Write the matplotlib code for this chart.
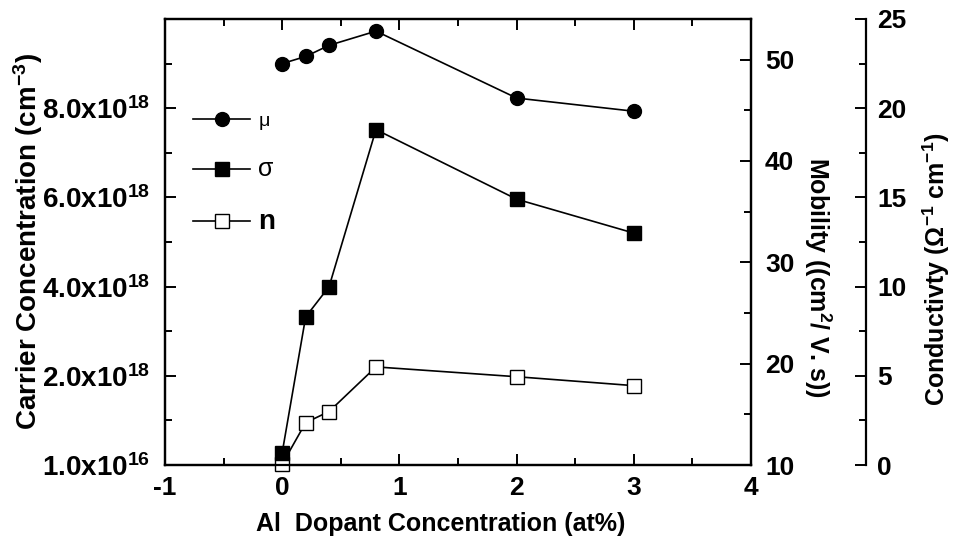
import matplotlib.pyplot as plt
from matplotlib.lines import Line2D
from matplotlib.ticker import MultipleLocator

plt.rcParams['font.family'] = ['Liberation Sans', 'DejaVu Sans']
plt.rcParams['mathtext.fontset'] = 'custom'
plt.rcParams['mathtext.rm'] = 'Liberation Sans:bold'
plt.rcParams['mathtext.bf'] = 'Liberation Sans:bold'
plt.rcParams['mathtext.default'] = 'bf'
plt.rcParams['axes.unicode_minus'] = False

# Data
al_pct = [0, 0.2, 0.4, 0.8, 2, 3]
mobility = [49.6, 50.3, 51.4, 52.8, 46.2, 44.9]          # cm^2/V.s
conductivity = [0.7, 8.3, 10.0, 18.8, 14.9, 13.0]       # 1/(ohm cm)
carrier = [0.02, 0.95, 1.2, 2.2, 1.98, 1.78]            # x1e18 cm^-3

carrier_ticks = [0, 2, 4, 6, 8]
carrier_labels = ['1.0x10$^{16}$', '2.0x10$^{18}$', '4.0x10$^{18}$',
                  '6.0x10$^{18}$', '8.0x10$^{18}$']

TICK_FS = 19

fig = plt.figure(figsize=(9.56, 5.42), dpi=100)
ax = fig.add_axes([0.1726, 0.142, 0.613, 0.823])
ax_mu = ax.twinx()
ax_sig = ax.twinx()
ax_sig.spines['right'].set_position(('axes', 1.196))

for a in (ax, ax_mu, ax_sig):
    for s in a.spines.values():
        s.set_linewidth(1.6)
ax_sig.spines['top'].set_visible(False)
ax_sig.spines['left'].set_visible(False)
ax_sig.spines['bottom'].set_visible(False)

# Carrier concentration (left axis)
ax.plot(al_pct, carrier, color='black', lw=1.2, marker='s', ms=10,
        mfc='white', mec='black', mew=1.0, zorder=3, clip_on=False)
ax.set_xlim(-1, 4)
ax.set_ylim(0, 10)
ax.set_yticks(carrier_ticks)
ax.set_yticklabels(carrier_labels)
ax.yaxis.set_minor_locator(MultipleLocator(1))
ax.xaxis.set_major_locator(MultipleLocator(1))
ax.xaxis.set_minor_locator(MultipleLocator(0.5))
ax.tick_params(which='both', direction='in', top=True, right=False,
               labelsize=TICK_FS, width=1.4)
ax.tick_params(which='major', length=8)
ax.tick_params(which='minor', length=5)
ax.tick_params(axis='y', which='both', pad=11, labelsize=20)
ax.tick_params(axis='x', which='both', pad=8)
for t in ax.get_xticklabels() + ax.get_yticklabels():
    t.set_fontweight('bold')
ax.set_xlabel('Al  Dopant Concentration (at%)', fontsize=18,
              fontweight='bold')
ax.xaxis.set_label_coords(0.47, -0.105)
ax.set_ylabel('Carrier Concentration (cm$^{-3}$)', fontsize=20,
              fontweight='bold')
ax.yaxis.set_label_coords(-0.205, 0.5)

# Mobility (inner right axis)
ax_mu.plot(al_pct, mobility, color='black', lw=1.2, marker='o', ms=10,
           mfc='black', mec='black', zorder=3)
ax_mu.set_ylim(10, 54)
ax_mu.set_yticks([10, 20, 30, 40, 50])
ax_mu.yaxis.set_minor_locator(MultipleLocator(5))
ax_mu.tick_params(which='both', direction='in', labelsize=TICK_FS, width=1.4,
                  pad=10)
ax_mu.tick_params(which='major', length=8)
ax_mu.tick_params(which='minor', length=5)
for t in ax_mu.get_yticklabels():
    t.set_fontweight('bold')
ax_mu.set_ylabel('Mobility ((cm$^{2}$/ V. s))', fontsize=18,
                 fontweight='bold', rotation=-90)
ax_mu.yaxis.set_label_coords(1.14, 0.42)

# Conductivity (outer right axis)
ax_sig.plot(al_pct, conductivity, color='black', lw=1.2, marker='s', ms=10,
            mfc='black', mec='black', zorder=3)
ax_sig.set_ylim(0, 25)
ax_sig.set_yticks([0, 5, 10, 15, 20, 25])
ax_sig.yaxis.set_minor_locator(MultipleLocator(2.5))
ax_sig.tick_params(which='both', direction='in', labelsize=TICK_FS, width=1.4,
                   pad=8)
ax_sig.tick_params(which='major', length=8)
ax_sig.tick_params(which='minor', length=5)
for t in ax_sig.get_yticklabels():
    t.set_fontweight('bold')
ax_sig.set_ylabel('Conductivty ($\\Omega^{-1}$ cm$^{-1}$)', fontsize=18,
                  fontweight='bold')
ax_sig.yaxis.set_label_coords(1.29, 0.44)

# Legend
handles = [
    Line2D([], [], color='black', lw=1.2, marker='o', ms=10, mfc='black'),
    Line2D([], [], color='black', lw=1.2, marker='s', ms=10, mfc='black'),
    Line2D([], [], color='black', lw=1.2, marker='s', ms=10, mfc='white'),
]
leg = ax.legend(handles, ['\u03bc', '\u03c3', 'n'], loc='upper left',
                bbox_to_anchor=(0.013, 0.839), frameon=False, fontsize=16,
                handlelength=2.6, labelspacing=1.22, handletextpad=0.35)
for t, fs, fw in zip(leg.get_texts(), [14, 18, 20], ['normal', 'normal', 'bold']):
    t.set_fontsize(fs)
    t.set_fontweight(fw)

fig.savefig('out.png', dpi=100)
